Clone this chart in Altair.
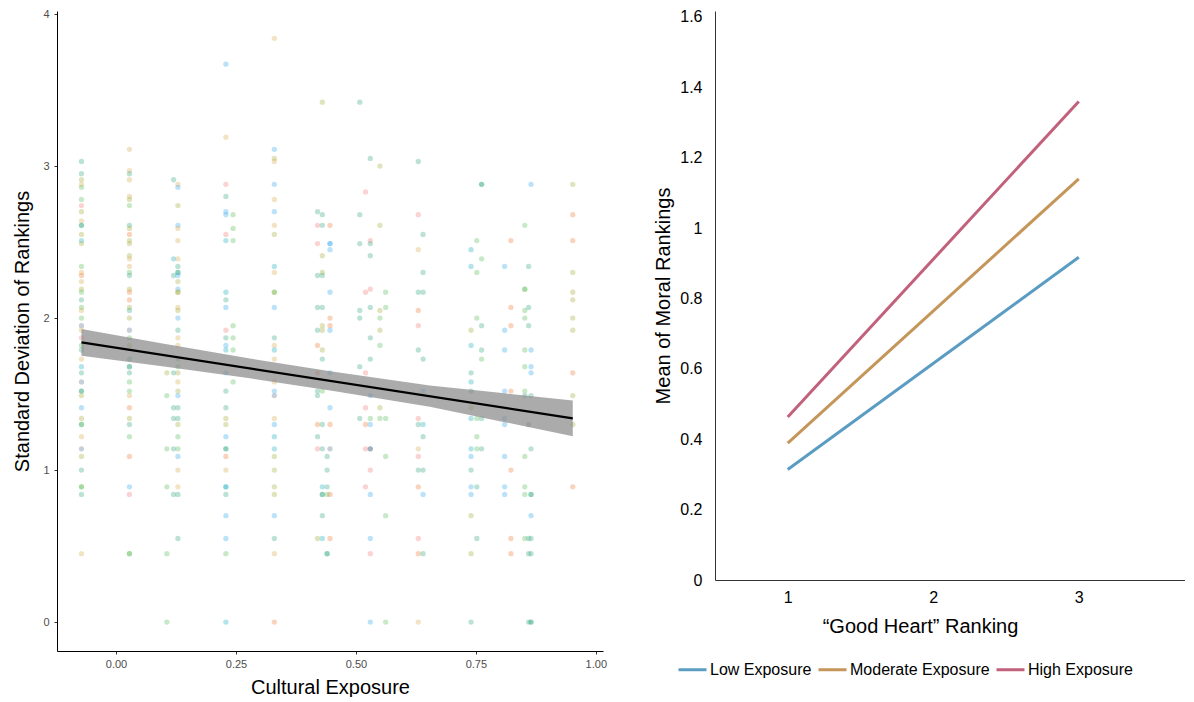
import altair as alt
import pandas as pd

FONT = "Liberation Sans"

# ---------------- left panel: scatter columns (x, [(sd, colour group), ...]) -------------
col_a_x = -0.072
col_a = [(3.03, "t"), (2.95, "t"), (2.91, "o"), (2.88, "y"), (2.86, "g"), (2.78, "g"), (2.74, "p"),
         (2.70, "o"), (2.64, "y"), (2.61, "t"), (2.61, "t"), (2.55, "o"), (2.51, "c"), (2.49, "o"),
         (2.34, "g"), (2.30, "y"), (2.28, "r"), (2.24, "y"), (2.19, "o"), (2.17, "g"), (2.12, "t"),
         (2.07, "g"), (2.05, "y"), (2.00, "g"), (1.95, "s"), (1.92, "y"), (1.87, "p"), (1.82, "g"),
         (1.79, "t"), (1.73, "y"), (1.68, "c"), (1.64, "t"), (1.58, "s"), (1.52, "t"), (1.52, "t"),
         (1.49, "o"), (1.41, "b"), (1.34, "o"), (1.30, "t"), (1.30, "g"), (1.22, "y"), (1.14, "s"),
         (1.09, "o"), (1.00, "t"), (0.89, "g"), (0.89, "g"), (0.84, "t"), (0.45, "y")]
col_b_x = 0.028
col_b = [(3.11, "y"), (2.97, "y"), (2.95, "t"), (2.91, "y"), (2.80, "y"), (2.78, "o"), (2.74, "g"),
         (2.61, "t"), (2.59, "o"), (2.55, "r"), (2.51, "o"), (2.49, "o"), (2.41, "o"), (2.39, "y"),
         (2.34, "y"), (2.30, "g"), (2.28, "t"), (2.19, "o"), (2.17, "r"), (2.12, "r"), (2.07, "o"),
         (2.05, "t"), (2.00, "o"), (1.92, "s"), (1.87, "g"), (1.82, "o"), (1.73, "t"), (1.68, "t"),
         (1.68, "t"), (1.64, "t"), (1.58, "g"), (1.52, "g"), (1.49, "y"), (1.41, "r"), (1.34, "o"),
         (1.30, "t"), (1.22, "g"), (1.09, "r"), (0.89, "b"), (0.84, "p"), (0.45, "g"), (0.45, "g")]
col_c1_x = 0.106
col_c1 = [(1.64, "o"), (1.49, "g"), (1.14, "g"), (0.89, "g"), (0.45, "g"), (0.0, "g")]
col_c2_x = 0.12
col_c2 = [(2.91, "t"), (2.39, "c"), (2.28, "t"), (1.64, "t"), (1.41, "t"), (1.34, "t"), (1.14, "t"),
          (0.84, "t")]
col_c3_x = 0.129
col_c3 = [(2.88, "y"), (2.86, "b"), (2.74, "o"), (2.61, "b"), (2.59, "y"), (2.51, "y"), (2.39, "y"),
          (2.34, "t"), (2.30, "t"), (2.30, "t"), (2.28, "b"), (2.24, "o"), (2.19, "b"), (2.17, "o"),
          (2.17, "o"), (2.07, "y"), (2.05, "o"), (2.00, "b"), (1.92, "t"), (1.87, "y"), (1.82, "y"),
          (1.73, "g"), (1.68, "g"), (1.64, "o"), (1.58, "y"), (1.52, "o"), (1.49, "b"), (1.41, "t"),
          (1.34, "t"), (1.30, "o"), (1.22, "g"), (1.14, "g"), (1.09, "b"), (1.00, "y"), (0.89, "y"),
          (0.84, "t"), (0.55, "t")]
col_d1_x = 0.229
col_d1 = [(3.67, "b"), (3.19, "y"), (2.88, "p"), (2.80, "t"), (2.70, "b"), (2.68, "b"), (2.55, "p"),
          (2.51, "c"), (2.17, "c"), (2.12, "t"), (2.07, "b"), (1.92, "p"), (1.87, "t"), (1.82, "b"),
          (1.79, "c"), (1.64, "b"), (1.52, "t"), (1.41, "t"), (1.34, "o"), (1.30, "o"), (1.22, "b"),
          (1.14, "t"), (1.14, "t"), (1.09, "r"), (1.00, "y"), (0.89, "c"), (0.89, "c"), (0.84, "t"),
          (0.70, "b"), (0.55, "b"), (0.45, "g"), (0.0, "c")]
col_d2_x = 0.244
col_d2 = [(2.68, "g"), (2.59, "g"), (2.51, "g"), (1.95, "g"), (1.87, "g"), (1.79, "g"), (1.58, "g")]
col_e_x = 0.33
col_e = [(3.84, "y"), (3.11, "b"), (3.05, "o"), (3.03, "y"), (2.88, "b"), (2.78, "y"), (2.70, "b"),
         (2.61, "y"), (2.55, "o"), (2.34, "c"), (2.30, "y"), (2.17, "o"), (2.17, "g"), (2.07, "b"),
         (1.87, "t"), (1.82, "y"), (1.79, "c"), (1.73, "y"), (1.58, "y"), (1.52, "b"), (1.49, "s"),
         (1.34, "y"), (1.30, "b"), (1.22, "c"), (1.14, "c"), (1.09, "o"), (1.00, "o"), (0.89, "o"),
         (0.84, "o"), (0.70, "b"), (0.55, "t"), (0.45, "y"), (0.0, "r")]
col_f1_x = 0.42
col_f1 = [(2.70, "t"), (2.61, "p"), (2.49, "p"), (2.28, "t"), (2.07, "t"), (1.92, "t"), (1.82, "r"),
          (1.64, "r"), (1.52, "t"), (1.49, "t"), (1.30, "r"), (1.22, "t"), (1.14, "p"), (0.55, "o")]
col_f2_x = 0.43
col_f2 = [(3.42, "o"), (2.68, "t"), (2.61, "t"), (2.41, "o"), (2.30, "o"), (2.28, "t"), (2.07, "t"),
          (1.95, "o"), (1.92, "o"), (1.79, "o"), (1.73, "t"), (1.52, "g"), (1.30, "t"), (1.14, "t"),
          (0.89, "c"), (0.84, "t"), (0.84, "t"), (0.70, "t"), (0.55, "c")]
col_f3_x = 0.44
col_f3 = [(1.09, "t"), (1.00, "t"), (0.89, "t"), (0.84, "g"), (0.45, "t"), (0.45, "t")]
col_f4_x = 0.446
col_f4 = [(2.61, "r"), (2.49, "b"), (2.49, "b"), (2.45, "b"), (2.17, "b"), (2.00, "r"), (1.95, "r"),
          (1.92, "b"), (1.64, "b"), (1.41, "b"), (1.30, "r"), (1.14, "s"), (0.84, "r"), (0.55, "r")]
col_g1_x = 0.508
col_g1 = [(3.42, "t"), (2.68, "t"), (2.49, "t"), (2.05, "t"), (2.00, "t"), (1.68, "t"), (1.34, "t")]
col_g2_x = 0.52
col_g2 = [(2.83, "p"), (2.17, "p"), (1.64, "p"), (1.41, "p"), (1.30, "r"), (1.14, "p"), (0.89, "p")]
col_g3_x = 0.53
col_g3 = [(3.05, "t"), (2.51, "p"), (2.49, "t"), (2.41, "t"), (2.19, "p"), (2.07, "t"), (1.87, "t"),
          (1.73, "t"), (1.49, "b"), (1.34, "g"), (1.30, "b"), (1.14, "s"), (1.14, "s"), (1.00, "p"),
          (0.84, "b"), (0.55, "b"), (0.45, "p"), (0.0, "b")]
col_g4_x = 0.55
col_g4 = [(3.00, "o"), (2.61, "o"), (2.05, "o"), (2.00, "g"), (1.92, "o"), (1.82, "g"), (1.41, "o"),
          (1.34, "g")]
col_g5_x = 0.562
col_g5 = [(2.17, "g"), (2.07, "g"), (1.34, "g"), (1.09, "g"), (0.70, "g"), (0.0, "g")]
col_h1_x = 0.63
col_h1 = [(3.03, "t"), (2.68, "p"), (2.45, "y"), (2.17, "t"), (2.05, "r"), (1.95, "p"), (1.79, "t"),
          (1.34, "p"), (1.30, "t"), (1.14, "y"), (1.09, "p"), (1.00, "t"), (0.89, "r"), (0.55, "p"),
          (0.45, "r"), (0.0, "y")]
col_h2_x = 0.64
col_h2 = [(2.55, "t"), (2.30, "t"), (2.17, "t"), (1.73, "t"), (1.52, "b"), (1.30, "c"), (1.22, "t"),
          (1.00, "t"), (0.84, "b"), (0.45, "t")]
col_i1_x = 0.74
col_i1 = [(2.45, "c"), (2.34, "c"), (1.92, "o"), (1.82, "c"), (1.64, "t"), (1.58, "c"), (1.52, "t"),
          (1.41, "o"), (1.34, "c"), (1.14, "c"), (1.09, "b"), (1.00, "t"), (0.89, "b"), (0.84, "b"),
          (0.70, "o"), (0.45, "o"), (0.0, "t")]
col_i2_x = 0.752
col_i2 = [(2.51, "g"), (2.30, "g"), (2.00, "g"), (1.34, "g"), (1.22, "g"), (1.14, "g"), (0.89, "t"),
          (0.55, "t")]
col_i3_x = 0.762
col_i3 = [(2.88, "t"), (2.88, "t"), (2.39, "g"), (1.95, "t"), (1.79, "t"), (1.73, "g"), (1.34, "t"),
          (1.14, "t")]
col_j1_x = 0.81
col_j1 = [(2.34, "b"), (1.92, "b"), (1.79, "b"), (1.52, "b"), (1.34, "b"), (1.30, "b"), (1.09, "b"),
          (0.89, "b"), (0.84, "b")]
col_j2_x = 0.823
col_j2 = [(2.51, "r"), (2.07, "r"), (1.95, "r"), (1.52, "r"), (1.00, "r"), (0.55, "r"), (0.45, "r")]
col_k1_x = 0.852
col_k1 = [(2.61, "g"), (2.19, "g"), (2.19, "g"), (2.05, "g"), (2.00, "g"), (1.79, "g"), (1.68, "g"),
          (1.52, "g"), (1.49, "t"), (1.09, "g"), (0.89, "g"), (0.84, "g"), (0.55, "g")]
col_k2_x = 0.86
col_k2 = [(2.34, "t"), (2.07, "t"), (1.95, "t"), (1.30, "s"), (0.55, "t"), (0.45, "t"), (0.0, "t")]
col_k3_x = 0.865
col_k3 = [(2.88, "b"), (1.79, "b"), (1.68, "b"), (1.64, "b"), (1.49, "t"), (1.14, "t"), (0.84, "t"),
          (0.84, "t"), (0.70, "b"), (0.55, "t"), (0.45, "t"), (0.0, "t"), (0.0, "t")]
col_l_x = 0.952
col_l = [(2.88, "o"), (2.68, "r"), (2.51, "r"), (2.30, "o"), (2.17, "o"), (2.12, "o"), (2.00, "o"),
         (1.92, "o"), (1.64, "r"), (1.49, "o"), (1.30, "o"), (0.89, "r")]

columns = [(col_a_x, col_a), (col_b_x, col_b), (col_c1_x, col_c1), (col_c2_x, col_c2),
           (col_c3_x, col_c3), (col_d1_x, col_d1), (col_d2_x, col_d2), (col_e_x, col_e),
           (col_f1_x, col_f1), (col_f2_x, col_f2), (col_f3_x, col_f3), (col_f4_x, col_f4),
           (col_g1_x, col_g1), (col_g2_x, col_g2), (col_g3_x, col_g3), (col_g4_x, col_g4),
           (col_g5_x, col_g5), (col_h1_x, col_h1), (col_h2_x, col_h2), (col_i1_x, col_i1),
           (col_i2_x, col_i2), (col_i3_x, col_i3), (col_j1_x, col_j1), (col_j2_x, col_j2),
           (col_k1_x, col_k1), (col_k2_x, col_k2), (col_k3_x, col_k3), (col_l_x, col_l)]

point_groups = ["g", "t", "o", "y", "r", "p", "b", "c", "s"]
point_colors = ["#5cbf5c", "#3aa987", "#a5ad3c", "#d9ad55", "#ef7d3c", "#f27f7f",
                "#3cabec", "#1fb0c2", "#5a7590"]

# regression line and its confidence band
fit_x = [-0.072, 0.952]
fit_y = [1.84, 1.34]
band_x = [-0.072, 0.1, 0.279, 0.45, 0.654, 0.8, 0.952]
band_lo = [1.752, 1.681, 1.604, 1.522, 1.416, 1.322, 1.222]
band_hi = [1.928, 1.831, 1.734, 1.648, 1.556, 1.508, 1.458]

# ---------------- right panel ----------------
levels = ["Low Exposure", "Moderate Exposure", "High Exposure"]
level_colors = ["#5b9cc2", "#c4965a", "#c1617b"]
heart_x = [1, 3]
low_y = [0.314, 0.917]
mod_y = [0.389, 1.14]
high_y = [0.463, 1.36]

# ---------------- build tables ----------------
pts = pd.DataFrame([{"x": cx, "y": v, "grp": g} for cx, lst in columns for v, g in lst])
band = pd.DataFrame({"x": band_x, "y": band_lo, "y2": band_hi})
fit = pd.DataFrame({"x": fit_x, "y": fit_y})
rows = []
for name, ys in zip(levels, [low_y, mod_y, high_y]):
    for xv, yv in zip(heart_x, ys):
        rows.append({"x": xv, "y": yv, "level": name})
lines = pd.DataFrame(rows)

left_axis = dict(domainColor="black", domainWidth=1, tickColor="#333333", tickSize=3,
                 labelColor="#4d4d4d", labelFontSize=11, labelFont=FONT, titleFont=FONT,
                 titleFontSize=20, titleFontWeight="normal", titleColor="black", grid=False)

lx = alt.X("x:Q", scale=alt.Scale(domain=[-0.123, 1.015], nice=False, zero=False),
           axis=alt.Axis(values=[0, 0.25, 0.5, 0.75, 1.0], format=".2f", title="Cultural Exposure",
                         labelPadding=4, titlePadding=8, **left_axis))
ly = alt.Y("y:Q", scale=alt.Scale(domain=[-0.19, 4.02], nice=False, zero=False),
           axis=alt.Axis(values=[0, 1, 2, 3, 4], format="d", title="Standard Deviation of Rankings",
                         labelPadding=5, titlePadding=10, **left_axis))

scatter = alt.Chart(pts).mark_circle(size=28, opacity=0.34, stroke=None).encode(
    x=lx, y=ly,
    color=alt.Color("grp:N", scale=alt.Scale(domain=point_groups, range=point_colors), legend=None),
)
band_layer = alt.Chart(band).mark_area(color="#8a8a8a", opacity=0.72).encode(x=lx, y=ly, y2="y2:Q")
fit_layer = alt.Chart(fit).mark_line(color="black", strokeWidth=2.2).encode(x=lx, y=ly)

left = alt.layer(scatter, band_layer, fit_layer).properties(width=546, height=640)

right_axis = dict(domainColor="#333333", domainWidth=1, ticks=False, labelColor="black",
                  labelFontSize=16, labelFont=FONT, titleFont=FONT, titleFontSize=20,
                  titleFontWeight="normal", titleColor="black", grid=False)

rx = alt.X("x:Q", scale=alt.Scale(domain=[0.5, 3.73], nice=False, zero=False),
           axis=alt.Axis(values=[1, 2, 3], format="d", title="“Good Heart” Ranking",
                         labelPadding=9, titlePadding=11, titleX=205, **right_axis))
ry = alt.Y("y:Q", scale=alt.Scale(domain=[0, 1.617], nice=False, zero=False),
           axis=alt.Axis(values=[0, 0.2, 0.4, 0.6, 0.8, 1.0, 1.2, 1.4, 1.6], format="~g",
                         title="Mean of Moral Rankings", labelPadding=13, titlePadding=6,
                         **right_axis))

right = alt.Chart(lines).mark_line(strokeWidth=3).encode(
    x=rx, y=ry,
    color=alt.Color("level:N", sort=levels,
                    scale=alt.Scale(domain=levels, range=level_colors),
                    legend=alt.Legend(orient="none", legendX=-38, legendY=643, direction="horizontal",
                                      title=None, symbolType="stroke", symbolSize=784,
                                      symbolStrokeWidth=3, labelFontSize=16, labelFont=FONT,
                                      labelColor="black", labelOffset=2, columnPadding=0)),
).properties(width=470, height=569)

chart = alt.hconcat(left, right, spacing=46).resolve_scale(color="independent").properties(
    padding={"left": 4, "top": 0, "right": 0, "bottom": 0}
).configure_view(stroke=None)

chart.save("out.html", embed_options={"renderer": "svg", "actions": False})
